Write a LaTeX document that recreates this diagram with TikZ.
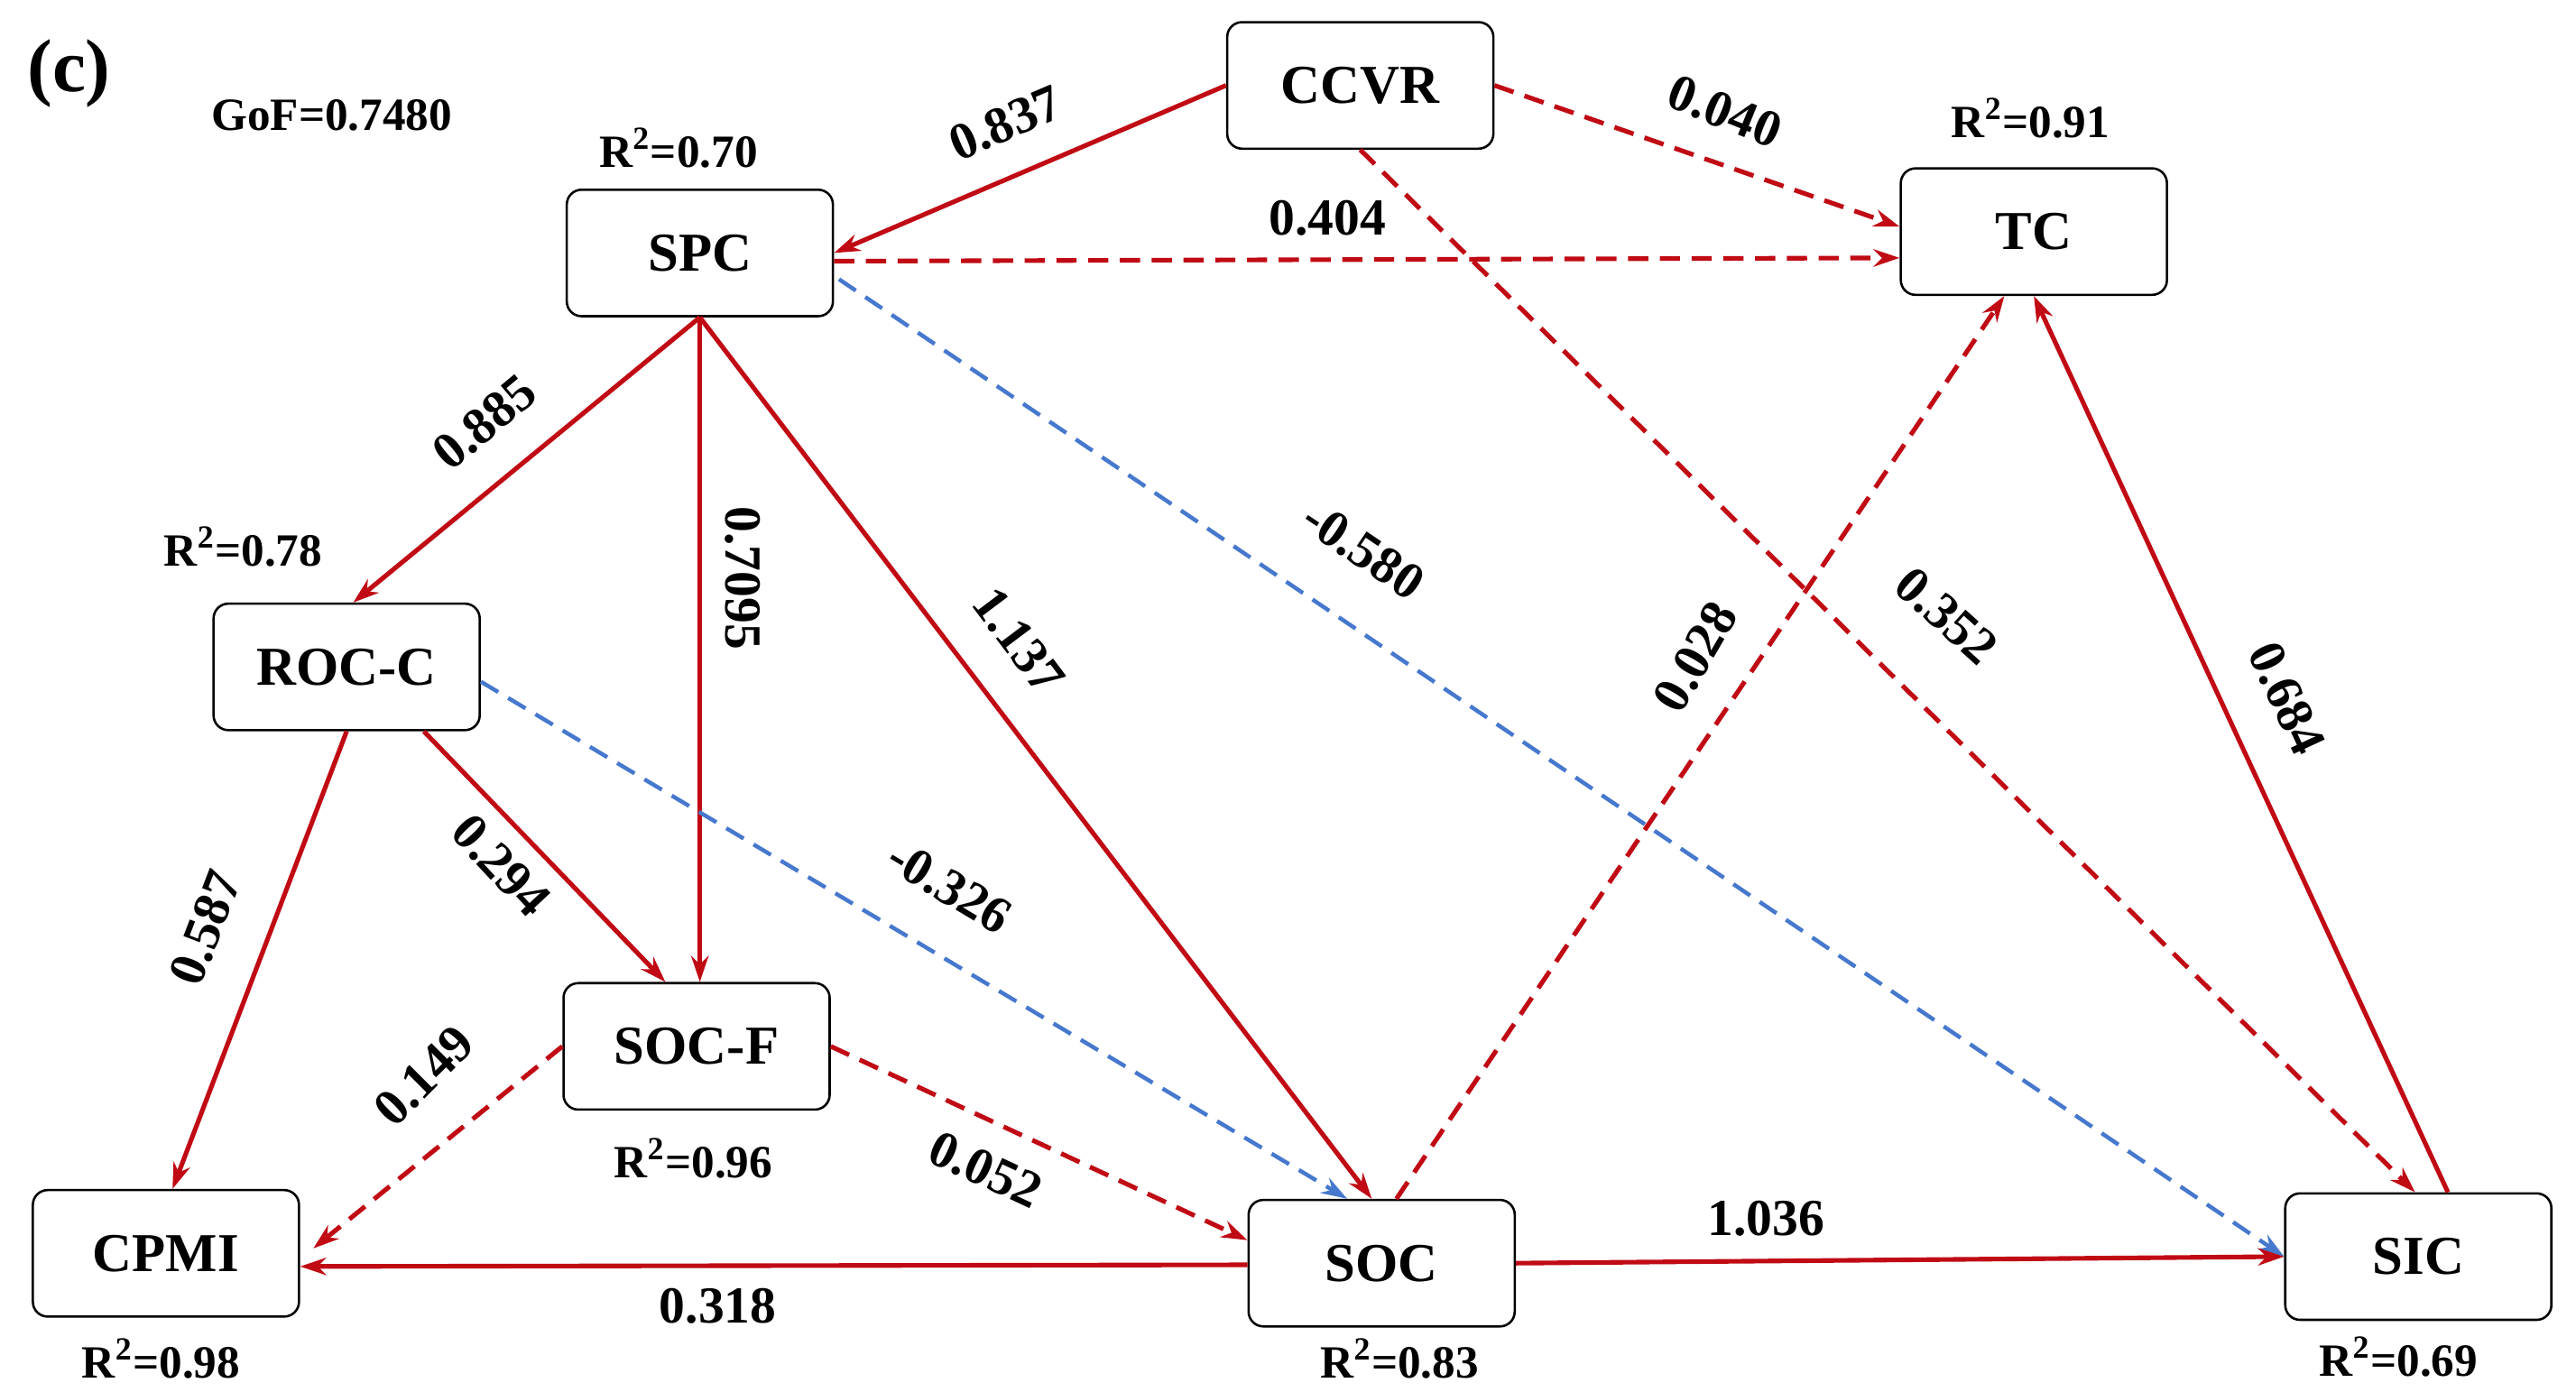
\documentclass[tikz,border=0pt]{standalone}
\usepackage{fontspec}
\setmainfont{Liberation Serif}
\usetikzlibrary{calc,arrows.meta}
\definecolor{cred}{RGB}{192,10,20}
\definecolor{cblue}{RGB}{70,120,205}
\begin{document}
\begin{tikzpicture}[x=0.2mm,y=-0.2mm,
 box/.style={draw,rounded corners=1.8mm,line width=0.8pt,minimum width=32.4mm,minimum height=15.4mm,font=\fontsize{19}{19}\selectfont\bfseries},
 lab/.style={font=\fontsize{18}{18}\selectfont\bfseries},
 rl/.style={font=\fontsize{16}{16}\selectfont\bfseries},
 sr/.style={cred,line width=1.6pt,-{Stealth[length=9pt,width=6pt]}},
 dr/.style={cred,line width=1.6pt,dash pattern=on 7pt off 4pt,-{Stealth[length=9pt,width=6pt]}},
 db/.style={cblue,line width=1.4pt,dash pattern=on 7pt off 4pt,-{Stealth[length=9pt,width=6pt]}}]
\useasboundingbox (0,0) rectangle (1568,847);
\node[box] (CCVR) at (828,52) {CCVR};
\node[box] (SPC) at (426,154) {SPC};
\node[box] (TC) at (1238,141) {TC};
\node[box] (ROC) at (211,406) {ROC-C};
\node[box] (SOCF) at (424,637) {SOC-F};
\node[box] (CPMI) at (101,763) {CPMI};
\node[box] (SOC) at (841,769) {SOC};
\node[box] (SIC) at (1472,765) {SIC};
% edges
\draw[sr] (CCVR.west) -- ($(SPC.east)+(0,0)$);
\draw[dr] (CCVR.east) -- ($(TC.west)+(0,-3)$);
\draw[dr] ($(SPC.east)+(0,5)$) -- ($(TC.west)+(0,16)$);
\draw[dr] ($(CCVR.south)+(0,0)$) -- ($(SIC.north)+(-2,0)$);
\draw[db] ($(SPC.east)+(3,16)$) -- ($(SIC.west)+(0,0)$);
\draw[sr] (SPC.south) -- ($(ROC.north)+(4,0)$);
\draw[sr] (SPC.south) -- ($(SOCF.north)+(2,0)$);
\draw[sr] (SPC.south) -- ($(SOC.north)+(-6,0)$);
\draw[sr] ($(ROC.south)+(47,0)$) -- ($(SOCF.north)+(-19,0)$);
\draw[sr] (ROC.south) -- ($(CPMI.north)+(4,0)$);
\draw[db] ($(ROC.east)+(0,9)$) -- ($(SOC.north)+(-21,0)$);
\draw[dr] (SOCF.west) -- ($(CPMI.east)+(8,-3)$);
\draw[dr] (SOCF.east) -- ($(SOC.west)+(0,-14)$);
\draw[sr] ($(SOC.west)+(0,1)$) -- ($(CPMI.east)+(0,8)$);
\draw[sr] (SOC.east) -- (SIC.west);
\draw[dr] ($(SOC.north)+(9,0)$) -- ($(TC.south)+(-18,0)$);
\draw[sr] ($(SIC.north)+(18,0)$) -- (TC.south);
% edge labels
\node[lab,rotate=23] at (612,75) {0.837};
\node[lab,rotate=-22] at (1050,68) {0.040};
\node[lab] at (808,133) {0.404};
\node[lab,rotate=-42] at (1185,375) {0.352};
\node[lab,rotate=-34] at (830,335) {-0.580};
\node[lab,rotate=40] at (295,257) {0.885};
\node[lab,rotate=-90] at (452,352) {0.7095};
\node[lab,rotate=-53] at (620,390) {1.137};
\node[lab,rotate=-47] at (305,527) {0.294};
\node[lab,rotate=69] at (125,565) {0.587};
\node[lab,rotate=-31] at (578,540) {-0.326};
\node[lab,rotate=45] at (258,655) {0.149};
\node[lab,rotate=-25] at (600,712) {0.052};
\node[lab] at (437,795) {0.318};
\node[lab] at (1075,742) {1.036};
\node[lab,rotate=60] at (1032,400) {0.028};
\node[lab,rotate=-65] at (1392,425) {0.684};
% R2 labels
\node[font=\fontsize{26}{26}\selectfont\bfseries] at (42,45) {(c)};
\node[rl] at (202,70) {GoF=0.7480};
\node[rl] at (413,90) {R$^{\mathbf{2}}$=0.70};
\node[rl] at (1236,72) {R$^{\mathbf{2}}$=0.91};
\node[rl] at (148,333) {R$^{\mathbf{2}}$=0.78};
\node[rl] at (422,705) {R$^{\mathbf{2}}$=0.96};
\node[rl] at (98,827) {R$^{\mathbf{2}}$=0.98};
\node[rl] at (852,827) {R$^{\mathbf{2}}$=0.83};
\node[rl] at (1460,826) {R$^{\mathbf{2}}$=0.69};
\end{tikzpicture}
\end{document}
